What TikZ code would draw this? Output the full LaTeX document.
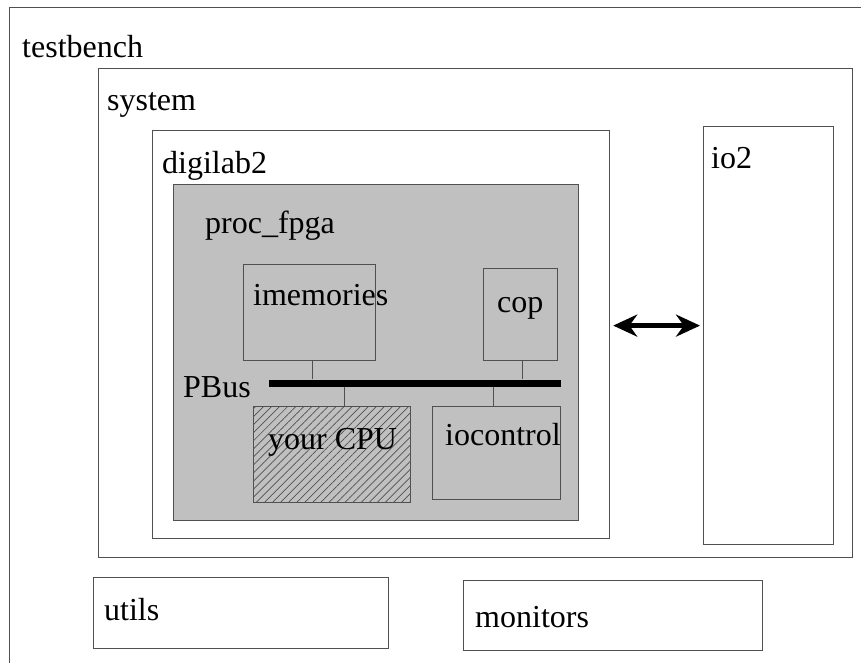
\documentclass[tikz,border=0pt]{standalone}
\usepackage{fontspec}
\setmainfont{Liberation Serif}
\usetikzlibrary{positioning,arrows.meta,patterns.meta}
\definecolor{fpgagray}{RGB}{192,192,192}
\definecolor{edge}{RGB}{80,80,80}
\tikzset{
  box/.style={draw=edge,line width=1.2pt,inner sep=0pt,anchor=north west},
  lbl/.style={anchor=base west,inner sep=0pt,font=\fontsize{32}{38}\selectfont},
  wire/.style={draw=edge,line width=1.2pt},
  link/.style={line width=5pt,{Stealth[length=24pt,width=22pt]}-{Stealth[length=24pt,width=22pt]}},
}

\begin{document}
\begin{tikzpicture}[x=1pt,y=-1pt]
        \useasboundingbox (0,0) rectangle (861,662);
        \clip (0,0) rectangle (861,662);
        % frames
        \node[box,minimum width=900pt,minimum height=700pt] (testbench) at (9,7) {};
        \node[box,minimum width=754pt,minimum height=489pt] (system) at (98,68) {};
        \node[box,minimum width=457pt,minimum height=408pt] (digilab2) at (152,130) {};
        \node[box,fill=fpgagray,minimum width=405pt,minimum height=336pt] (fpga) at (173,184) {};
        \node[box,minimum width=130pt,minimum height=418pt] (io2) at (703,126) {};
        \node[box,minimum width=295pt,minimum height=71pt] (utils) at (93,577) {};
        \node[box,minimum width=299pt,minimum height=70pt] (monitors) at (463,580) {};
        % inside proc_fpga
        \node[box,minimum width=132pt,minimum height=96pt] (imem) at (243,264) {};
        \node[box,minimum width=74pt,minimum height=92pt] (cop) at (483,268) {};
        \node[box,fill=fpgagray,postaction={pattern={Lines[angle=45,distance=5.7pt,line width=0.7pt]},pattern color=edge},
              minimum width=157pt,minimum height=96pt] (cpu) at (253,406) {};
        \node[box,minimum width=128pt,minimum height=93pt] (ioctl) at (432,406) {};
        \node[box,draw=none,fill=black,minimum width=292pt,minimum height=7pt] (bus) at (268,379) {};
        \draw[wire] ([xshift=3pt]imem.south) -- ([xshift=3pt]imem.south |- bus.north);
        \draw[wire] ([xshift=2pt]cop.south) -- ([xshift=2pt]cop.south |- bus.north);
        \draw[wire] ([xshift=12.5pt]cpu.north) -- ([xshift=12.5pt]cpu.north |- bus.south);
        \draw[wire] ([xshift=-3pt]ioctl.north) -- ([xshift=-3pt]ioctl.north |- bus.south);
        \draw[link] ([shift={(3,-9)}]digilab2.east) -- ([shift={(-3,-9)}]digilab2.east -| io2.west);
        % labels
        \node[lbl] (testbenchtxt) at ([shift={(13,50)}]testbench.north west) {testbench};
        \node[lbl] (systemtxt) at ([shift={(9,42)}]system.north west) {system};
        \node[lbl] (digilabtxt) at ([shift={(10,43)}]digilab2.north west) {digilab2};
        \node[lbl] (fpgatxt) at ([shift={(32,49)}]fpga.north west) {proc\_fpga};
        \node[lbl] (imemtxt) at ([shift={(10,41)}]imem.north west) {imemories};
        \node[lbl] (coptxt) at ([shift={(14,44)}]cop.north west) {cop};
        \node[lbl] (bustxt) at ([shift={(10,213)}]fpga.north west) {PBus};
        \node[lbl] (cputxt) at ([shift={(15,43)}]cpu.north west) {your CPU};
        \node[lbl] (ioctltxt) at ([shift={(13,39)}]ioctl.north west) {iocontrol};
        \node[lbl] (iotxt) at ([shift={(8,42)}]io2.north west) {io2};
        \node[lbl] (utilstxt) at ([shift={(11,43)}]utils.north west) {utils};
        \node[lbl] (monitorstxt) at ([shift={(12,47)}]monitors.north west) {monitors};
\end{tikzpicture}
\end{document}
